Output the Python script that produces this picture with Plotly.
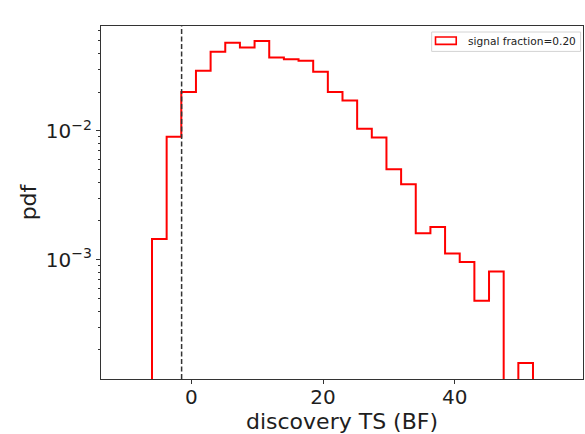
import numpy as np
import plotly.graph_objects as go

# Histogram of the discovery test statistic (density-normalised)
TS_MIN, TS_MAX, N_BINS = -6.0, 51.9, 26
pdf_values = [
    0.00145, 0.0090, 0.0200, 0.0293, 0.0412, 0.0483, 0.0443, 0.0499,
    0.0372, 0.0360, 0.0351, 0.0288, 0.0200, 0.0172, 0.0104, 0.00887,
    0.00505, 0.00386, 0.00161, 0.00180, 0.00112, 0.00096, 0.00048,
    0.00081, 0.0, 0.000158,
]
threshold_ts = -1.5
legend_label = "signal fraction=0.20"

x_range = [-13.75, 59.5]
y_log_range = [-3.925, -1.186]
major_y = [1e-3, 1e-2]
minor_y = [m * 10.0 ** e for e in (-4, -3, -2) for m in range(2, 10)]

edges = np.linspace(TS_MIN, TS_MAX, N_BINS + 1)
floor = 1e-6  # baseline below the visible range (log axis)

# build the step outline (histtype='step' style)
xs, ys = [edges[0]], [floor]
for i, h in enumerate(pdf_values):
    v = h if h > 0 else floor
    xs += [edges[i], edges[i + 1]]
    ys += [v, v]
xs.append(edges[-1])
ys.append(floor)

fig = go.Figure()
fig.add_trace(go.Scatter(
    x=xs, y=ys, mode="lines",
    line=dict(color="#ff0000", width=2),
    showlegend=False, hoverinfo="skip",
))

# threshold marker
fig.add_shape(type="line", xref="x", yref="paper",
              x0=threshold_ts, x1=threshold_ts, y0=0, y1=1,
              line=dict(color="#333333", width=1.5, dash="5px,2.5px"))

# legend box
fig.add_shape(type="rect", xref="paper", yref="paper",
              x0=0.686, x1=0.995, y0=0.928, y1=0.983,
              line=dict(color="#d4d4d4", width=1), fillcolor="rgba(255,255,255,0.8)")
fig.add_shape(type="rect", xref="paper", yref="paper",
              x0=0.694, x1=0.737, y0=0.948, y1=0.969,
              line=dict(color="#ff0000", width=1.6), fillcolor="white")
fig.add_annotation(text=legend_label, xref="paper", yref="paper",
                   x=0.757, y=0.9585, xanchor="left", yanchor="middle",
                   showarrow=False, font=dict(size=10.6, color="#222222"))

axis_common = dict(showline=True, linecolor="#333333", linewidth=1.3,
                   mirror=True, ticks="outside", tickcolor="#333333",
                   showgrid=False, zeroline=False)

fig.update_layout(
    width=585, height=434,
    margin=dict(l=101, r=2, t=26, b=55),
    paper_bgcolor="white", plot_bgcolor="white",
    font=dict(family="DejaVu Sans", size=20, color="#1e1e1e"),
    xaxis=dict(range=x_range, tickvals=[0, 20, 40], ticklen=4, tickwidth=1,
               tickfont=dict(size=20), ticklabelstandoff=-4,
               title=dict(text="discovery TS (BF)", font=dict(size=22), standoff=2),
               **axis_common),
    yaxis=dict(type="log", range=y_log_range, tickvals=major_y,
               ticktext=["10<sup>−3</sup>", "10<sup>−2</sup>"],
               ticklen=4, tickwidth=1, tickfont=dict(size=20),
               minor=dict(tickvals=minor_y, ticks="outside", ticklen=2,
                          tickcolor="#333333", tickwidth=1),
               title=dict(text="pdf", font=dict(size=22), standoff=3),
               **axis_common),
)

fig.write_html("out.html")
